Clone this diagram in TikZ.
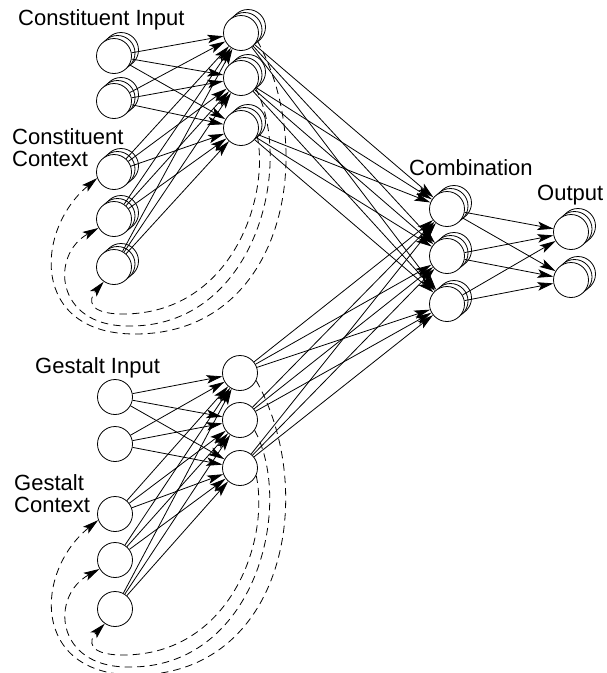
\documentclass[tikz,border=0pt]{standalone}
\usepackage{fontspec}
\setmainfont{Liberation Sans}
\usetikzlibrary{arrows.meta}
\newcommand\stackunit[3]{%
  \node[unit] (#1b2) at ({#2+7},{#3-6}) {};
  \node[unit] (#1b1) at ({#2+3.5},{#3-3}) {};
  \node[unit] (#1) at (#2,#3) {};
}
\newcommand\recurrences[6]{%
  \draw[rec] (#1.-25) .. controls (318,150) and (285,334) .. (135,334)
     .. controls (30,334) and (35,230) .. (#4.200);
  \draw[rec] (#2.-35) .. controls (295,165) and (255,328) .. (128,326)
     .. controls (55,326) and (50,255) .. (#5.210);
  \draw[rec] (#3.-25) .. controls (270,200) and (230,314) .. (123,314)
     .. controls (88,314) and (88,300) .. (#6.235);
}
\begin{document}
\begin{tikzpicture}[x=1pt,y=-1pt,
  unit/.style={circle,draw,fill=white,minimum size=35pt,inner sep=0pt,line width=0.8pt},
  conn/.style={-{Stealth[length=16pt,width=8.5pt,inset=3.5pt]},line width=0.8pt},
  rec/.style={conn,dash pattern=on 7.5pt off 5pt},
  lbl/.style={inner sep=0pt,anchor=base west,font=\fontsize{22}{22}\selectfont}]
\useasboundingbox (0,0) rectangle (607,673);

% labels
\node[lbl] (lci) at (18,25) {Constituent Input};
\node[lbl] (lcc) at (12,144) {\begin{tabular}[t]{@{}l@{}}Constituent\\Context\end{tabular}};
\node[lbl] (lgi) at (35,373) {Gestalt Input};
\node[lbl] (lgc) at (14,490) {\begin{tabular}[t]{@{}l@{}}Gestalt\\Context\end{tabular}};
\node[lbl] (lcomb) at (409,175) {Combination};
\node[lbl] (lout) at (537,200) {Output};

% constituent module (stacked units)
\stackunit{ci1}{114}{56}
\stackunit{ci2}{114}{101}
\stackunit{cc1}{114}{172}
\stackunit{cc2}{114}{219}
\stackunit{cc3}{114}{267}
\stackunit{ch1}{241}{33}
\stackunit{ch2}{241}{78}
\stackunit{ch3}{241}{128}

% gestalt module (single units)
\node[unit] (gi1) at (115,397) {};
\node[unit] (gi2) at (115,444) {};
\node[unit] (gc1) at (115,514) {};
\node[unit] (gc2) at (115,560) {};
\node[unit] (gc3) at (115,609) {};
\node[unit] (gh1) at (240,373) {};
\node[unit] (gh2) at (240,420) {};
\node[unit] (gh3) at (240,468) {};

% combination and output (stacked)
\stackunit{m1}{447}{209}
\stackunit{m2}{447}{256}
\stackunit{m3}{447}{304}
\stackunit{o1}{571}{232}
\stackunit{o2}{571}{280}

% feed-forward connections
\foreach \s in {ci1,ci2,cc1,cc2,cc3}
  \foreach \t in {ch1,ch2,ch3}
    \draw[conn] (\s) -- (\t);
\foreach \s in {gi1,gi2,gc1,gc2,gc3}
  \foreach \t in {gh1,gh2,gh3}
    \draw[conn] (\s) -- (\t);
\foreach \s in {ch1,ch2,ch3,gh1,gh2,gh3}
  \foreach \t in {m1,m2,m3}
    \draw[conn] (\s) -- (\t);
\foreach \s in {m1,m2,m3}
  \foreach \t in {o1,o2}
    \draw[conn] (\s) -- (\t);

% recurrent copy connections
\recurrences{ch1}{ch2}{ch3}{cc1}{cc2}{cc3}
\begin{scope}[shift={(0,341)}]
\recurrences{gh1}{gh2}{gh3}{gc1}{gc2}{gc3}
\end{scope}
\end{tikzpicture}
\end{document}
